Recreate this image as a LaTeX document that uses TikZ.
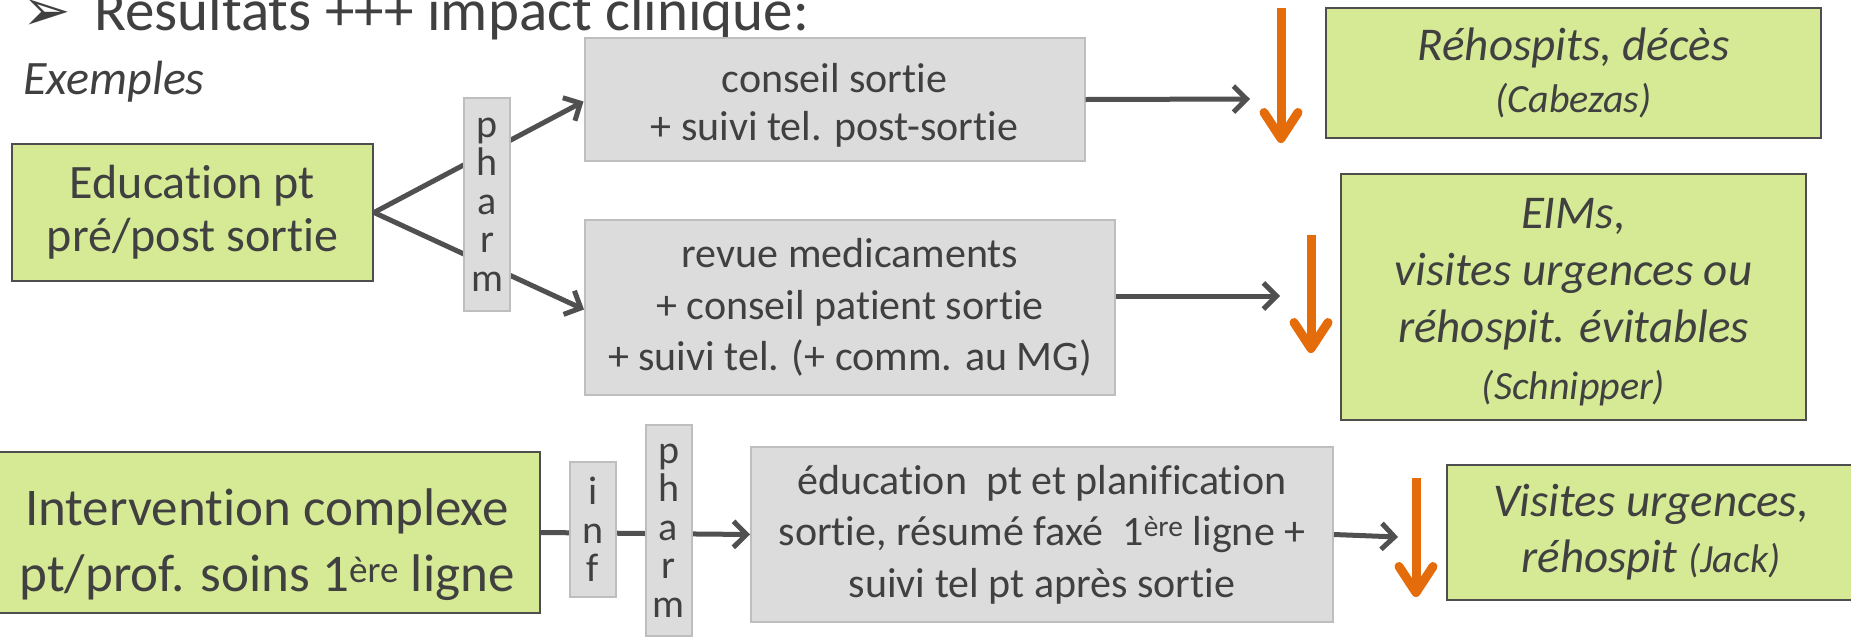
\documentclass[tikz,border=0pt]{standalone}
\usepackage{fontspec}
\setmainfont{Carlito}[Ligatures=NoCommon]
\newfontfamily\symfont{DejaVu Sans}
\usetikzlibrary{arrows.meta}

\definecolor{leafgreen}{RGB}{214,234,150}
\definecolor{boxgrey}{RGB}{220,220,220}
\definecolor{greyedge}{RGB}{190,190,190}
\definecolor{darkedge}{RGB}{78,78,78}
\definecolor{inkgrey}{RGB}{64,64,64}
\definecolor{linkgrey}{RGB}{80,80,80}
\definecolor{downorange}{RGB}{228,108,10}

\begin{document}
\begin{tikzpicture}[x=1pt, y=-1pt,
    every node/.style={text=inkgrey, inner sep=0pt},
    outcome/.style={draw=darkedge, fill=leafgreen, line width=2pt, align=center},
    action/.style={draw=greyedge, fill=boxgrey, line width=2pt, align=center,
        font=\fontsize{42}{51.5}\selectfont},
    actor/.style={draw=greyedge, fill=boxgrey, line width=2pt, align=center,
        minimum width=46pt, font=\fontsize{40}{38.5}\selectfont},
    link/.style={draw=linkgrey, line width=5pt, -{Straight Barb[length=13pt,width=26pt]}},
    drop/.style={draw=downorange, line width=9pt, -{Straight Barb[length=26pt,width=34pt,round]}}
]

% Frame
\useasboundingbox (0,0) rectangle (1851,638);
\clip (0,0) rectangle (1851,638);

% Heading
\node[anchor=base west, font=\symfont\fontsize{58}{64}\selectfont] (bullet) at (22,30) {➢};
\node[anchor=base west, font=\fontsize{59}{70}\selectfont] (title) at (94,30) {Resultats +++ impact clinique:};
\node[anchor=base west, font=\itshape\fontsize{48}{56}\selectfont] (examples) at (23,94) {Exemples};

% Nodes
\node[outcome, minimum width=361pt, minimum height=137pt, font=\fontsize{48}{53}\selectfont] (edu) at (192.5,212.5) {Education pt\\pré/post sortie};
\node[action, minimum width=500pt, minimum height=123pt] (cons) at (834.5,99.5) {};
\node[align=center, font=\fontsize{42}{48}\selectfont] (constext) at ([yshift=-6pt]cons.center) {conseil sortie\\+ suivi tel. post-sortie};
\node[action, minimum width=530pt, minimum height=175pt] (rev) at (850,307.5) {revue medicaments\\+ conseil patient sortie\\+ suivi tel. (+ comm. au MG)};
\node[outcome, minimum width=546pt, minimum height=161pt] (interv) at (267,532.5) {};
\node[align=center, font=\fontsize{53}{66}\selectfont] (intervtext) at ([yshift=-12pt]interv.center) {Intervention complexe\\pt/prof. soins 1\textsuperscript{ère} ligne};
\node[action, minimum width=582pt, minimum height=175pt] (plan) at (1042,534.5) {éducation~ pt et planification\\sortie, résumé faxé~ 1\textsuperscript{ère} ligne +\\suivi tel pt après sortie};

\node[outcome, minimum width=495pt, minimum height=130pt, font=\itshape\fontsize{47}{52}\selectfont] (resA) at (1573.5,73) {Réhospits, décès\\{\fontsize{40}{52}\selectfont(Cabezas)}};
\node[outcome, minimum width=465pt, minimum height=246pt] (resB) at (1573.5,297) {};
\node[align=center, font=\itshape\fontsize{47}{57}\selectfont] (resBtext) at ([yshift=-5pt]resB.center) {EIMs,\\visites urgences ou\\réhospit. évitables\\{\fontsize{40}{57}\selectfont(Schnipper)}};
\node[outcome, minimum width=408pt, minimum height=135pt, font=\itshape\fontsize{47}{56}\selectfont] (resC) at (1651,532.5) {Visites urgences,\\réhospit {\fontsize{40}{56}\selectfont(Jack)}};

\coordinate (tipA) at (1250,99);
\coordinate (tipB) at (1280,296);
\coordinate (tipC) at (1398,537);
\coordinate (downAtop) at (1281,8);
\coordinate (downAbot) at (1281,143);
\coordinate (downBtop) at (1311,235);
\coordinate (downBbot) at (1311,353);
\coordinate (downCtop) at (1416,478);
\coordinate (downCbot) at (1416,597);

% Edges
\draw[link] (edu.east) -- ([yshift=-2pt]cons.west);
\draw[link] (edu.east) -- ([yshift=-2pt]rev.west);
\draw[link] (interv.east) -- (plan.west);
\draw[link] (cons.east) -- (tipA);
\draw[link] (rev.east |- tipB) -- (tipB);
\draw[link] (plan.east) -- (tipC);

% Actors, on top of the edges
\node[actor, minimum height=213pt] (pharmA) at (487,204.5) {p\\h\\a\\r\\m};
\node[actor, minimum height=135pt] (inf) at (593,529.5) {i\\n\\f};
\node[actor, minimum height=211pt] (pharmB) at (668.5,530.5) {p\\h\\a\\r\\m};

% Decrease arrows
\draw[drop] (downAtop) -- (downAbot);
\draw[drop] (downBtop) -- (downBbot);
\draw[drop] (downCtop) -- (downCbot);

\end{tikzpicture}
\end{document}
